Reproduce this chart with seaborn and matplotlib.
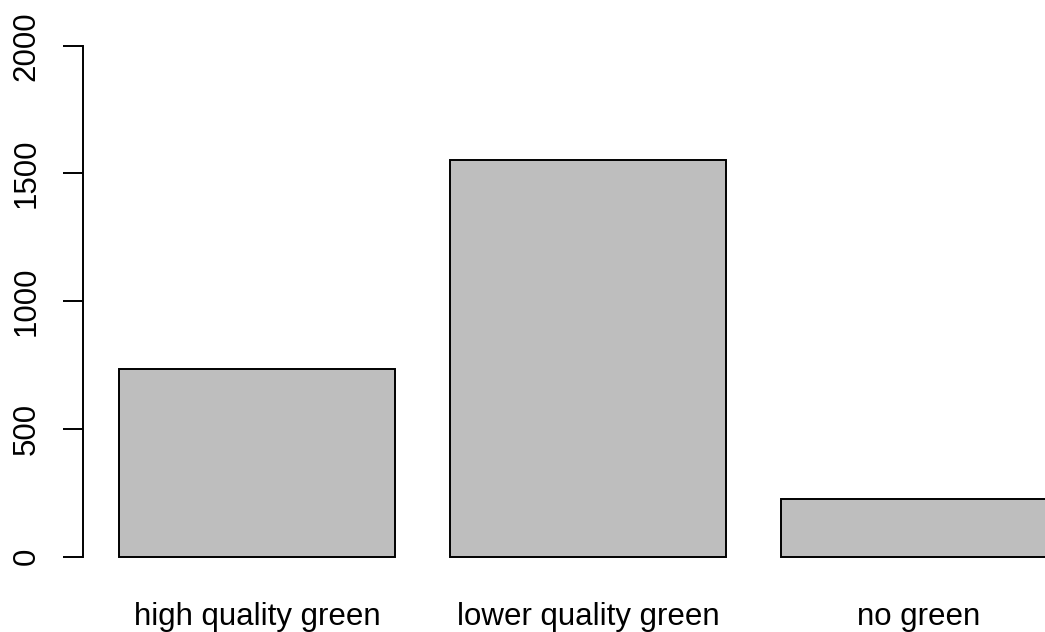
import matplotlib
matplotlib.use("Agg")
import matplotlib.pyplot as plt
import seaborn as sns

sns.set_theme(style="ticks")
plt.rcParams['font.family'] = ['Liberation Sans', 'DejaVu Sans']

# comptes par categorie
categories = ["high quality green", "lower quality green", "no green"]
counts = [735, 1553, 226]
yticks = [0, 500, 1000, 1500, 2000]

fig = plt.figure(figsize=(10.45, 6.32), dpi=100)
ax = fig.add_axes([0.0794, 0.0869, 0.9206, 0.8731])

sns.barplot(x=categories, y=counts, color="#BEBEBE", saturation=1,
            edgecolor="black", linewidth=1.4, width=1/1.2, ax=ax)

ax.set_xlim(-0.527, 2.382)
ax.set_ylim(-80, 2080)
ax.set_yticks(yticks)
ax.set_yticklabels([str(v) for v in yticks], rotation=90, va="center")
ax.set_xlabel("")
ax.set_ylabel("")

for s in ["top", "right", "bottom"]:
    ax.spines[s].set_visible(False)
ax.spines["left"].set_bounds(0, 2000)
ax.spines["left"].set_linewidth(1.4)
ax.spines["left"].set_color("black")

ax.tick_params(axis="y", length=14.4, width=1.4, pad=15.5, labelsize=22.5, colors="black")
ax.tick_params(axis="x", length=0, pad=18, labelsize=22.5, colors="black")

fig.savefig("out.png", dpi=100, facecolor="white")
